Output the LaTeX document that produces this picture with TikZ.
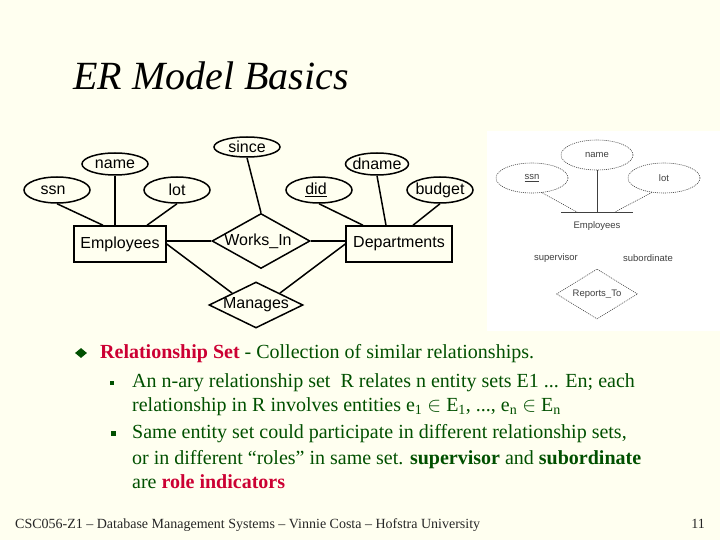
\documentclass[tikz,border=0pt]{standalone}
\usepackage{fontspec}
\setmainfont{Liberation Serif}
\newfontfamily\erfont{Liberation Sans}
\usepackage{tikz}
\usepackage{xcolor}
\usetikzlibrary{shapes.geometric, positioning}
\definecolor{cBack}{RGB}{255,255,240}
\definecolor{cGreen}{RGB}{0,80,0}
\definecolor{cRed}{RGB}{204,0,51}
\tikzset{
	erlabel/.style={font=\erfont\fontsize{16}{16}\selectfont},
	attr/.style   ={ellipse, draw=black, line width=1.5pt, minimum width=66pt, minimum height=22pt, inner sep=0pt},
	ent/.style    ={rectangle, draw=black, line width=1.5pt, minimum height=36pt, inner sep=0pt, font=\erfont\fontsize{16}{16}\selectfont},
	rel/.style    ={diamond, draw=black, line width=1.5pt, inner sep=0pt},
	erline/.style ={line width=1.5pt},
	% the small scanned ER picture on the right
	rlabel/.style ={font=\erfont\fontsize{9.5}{9.5}\selectfont, text=black!75},
	rattr/.style  ={ellipse, draw=black!75, line width=0.6pt, dash pattern=on 1pt off 1pt, minimum width=72pt, minimum height=30pt, inner sep=0pt},
	rline/.style  ={draw=black!75, line width=0.6pt, dash pattern=on 1pt off 1pt},
	% slide text
	body/.style   ={anchor=base west, font=\fontsize{20}{24}\selectfont, text=cGreen},
}
\begin{document}
\begin{tikzpicture}[x=1pt, y=-1pt, every node/.style={inner sep=0pt}]
	\fill[cBack] (0,0) rectangle (720,540);
	\useasboundingbox (0,0) rectangle (720,540);
	\node[anchor=base west, font=\fontsize{40}{40}\selectfont\itshape] (title) at (73,90) {ER Model Basics};
	\node[ent, minimum width=92pt] (emp) at (120,244) {Employees};
	\node[ent, minimum width=106pt] (dept) at (399,244) {Departments};
	\node[rel, minimum width=98pt, minimum height=55pt, label={[erlabel, xshift=-3pt]center:Works\_In}] (works) at (261,241) {};
	\node[rel, minimum width=94pt, minimum height=46pt, label={[erlabel]center:Manages}] (manages) at (256,305) {};
	\node[attr, minimum height=26pt, label={[erlabel, xshift=-4pt]center:ssn}] (ssn) at (57,190) {};
	\node[attr, label={[erlabel]center:name}] (name) at (115,164) {};
	\node[attr, minimum height=26pt, label={[erlabel]center:lot}] (lot) at (177,190) {};
	\node[attr, minimum height=20pt, label={[erlabel]center:since}] (since) at (247,147) {};
	\node[attr, minimum height=26pt, label={[erlabel, xshift=-3pt]center:\underline{did}}] (did) at (319,190) {};
	\node[attr, minimum width=63pt, label={[erlabel]center:dname}] (dname) at (377,164) {};
	\node[attr, minimum height=26pt, label={[erlabel]center:budget}] (budget) at (440,190) {};
	\draw[erline] (ssn.south) -- ([xshift=-17pt]emp.north);
	\draw[erline] (name.south) -- (name.south |- emp.north);
	\draw[erline] (lot.south) -- ([xshift=27pt]emp.north);
	\draw[erline] (since.south) -- (works.north);
	\draw[erline] (did.south) -- ([xshift=-36pt]dept.north);
	\draw[erline] (dname.south) -- ([xshift=-13pt]dept.north);
	\draw[erline] (budget.south) -- ([xshift=14pt]dept.north);
	\draw[erline] (emp.east |- works.west) -- (works.west);
	\draw[erline] (works.east) -- (dept.west |- works.east);
	\draw[erline] (emp.east) -- (manages.north west);
	\draw[erline] (dept.west) -- (manages.north east);
	\fill[white] (487,131) rectangle (720,331);
	\node[rattr, label={[rlabel]center:\underline{ssn}}] (rssn) at (532,178) {};
	\node[rattr, label={[rlabel]center:name}] (rname) at (597,155) {};
	\node[rattr, label={[rlabel]center:lot}] (rlot) at (664,178) {};
	\coordinate (rtop) at (597,212);
	\draw[black!75, line width=0.8pt] ([xshift=-36pt]rtop) -- ([xshift=36pt]rtop);
	\node[rlabel] (remp) at (597,226) {Employees};
	\draw[black!75, line width=0.8pt] (rname.south) -- (rtop);
	\draw[rline] (rssn.-56) -- ([xshift=-20pt]rtop);
	\draw[rline] (rlot.-130) -- ([xshift=18pt]rtop);
	\node[rlabel] (rsup) at (556,258) {supervisor};
	\node[rlabel] (rsub) at (648,258) {subordinate};
	\node[rattr, diamond, minimum width=81pt, minimum height=50pt, label={[rlabel]center:Reports\_To}] (rrep) at (597,294) {};
	\node[diamond, fill=cGreen, minimum width=12pt, minimum height=10pt] (b1) at (81,353) {};
	\node[fill=cGreen, minimum size=4pt] (b2) at (112,383) {};
	\node[fill=cGreen, minimum size=5pt] (b3) at (113,433) {};
	\node[body] (rsdef) at (100,358) {\textcolor{cRed}{\textbf{Relationship Set}} - Collection of similar relationships.};
	\node[body] (nary1) at (132,387) {An n-ary relationship set \ R relates n entity sets E1 ... En; each};
	\node[body] (nary2) at (132,411) {relationship in R involves entities e\textsubscript{1} $\in$ E\textsubscript{1}, ..., e\textsubscript{n} $\in$ E\textsubscript{n}};
	\node[body] (roles1) at (132,438) {Same entity set could participate in different relationship sets,};
	\node[body] (roles2) at (132,464) {or in different ``roles'' in same set. \textbf{supervisor} and \textbf{subordinate}};
	\node[body] (roles3) at (132,488) {are \textcolor{cRed}{\textbf{role indicators}}};
	\node[anchor=base west, font=\fontsize{14}{14}\selectfont, text=black!85] (foot) at (15,528) {CSC056-Z1 -- Database Management Systems -- Vinnie Costa -- Hofstra University};
	\node[anchor=base east, font=\fontsize{14}{14}\selectfont, text=black!85] (page) at (705,528) {11};
\end{tikzpicture}
\end{document}
